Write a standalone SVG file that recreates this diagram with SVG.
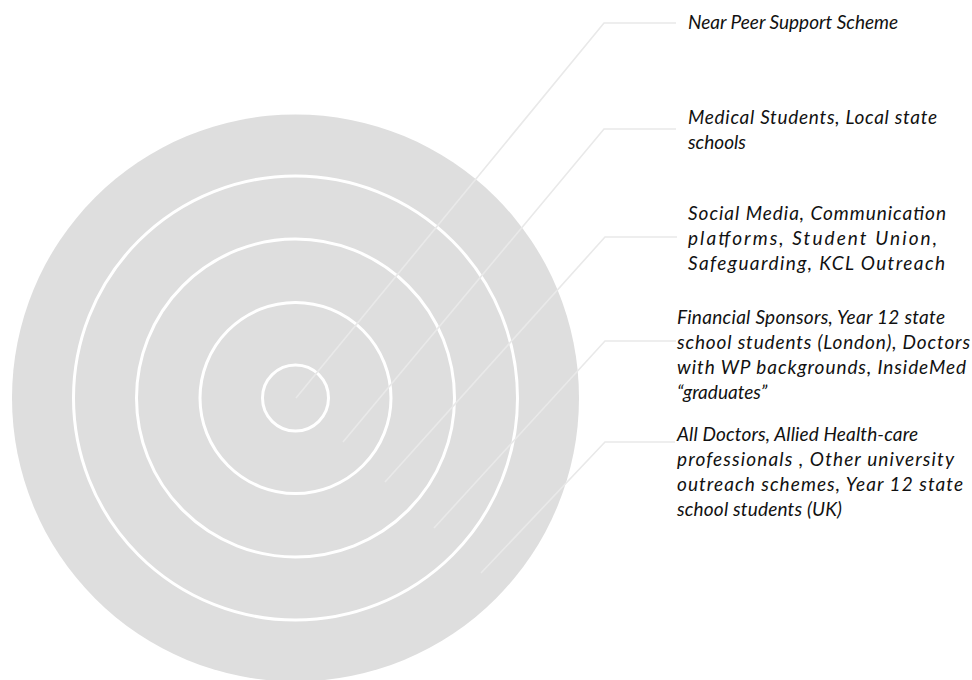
<svg xmlns="http://www.w3.org/2000/svg" width="972" height="680" viewBox="0 0 972 680">
<style>
.ring{fill:none;stroke:#ffffff;stroke-width:3}
.conn{fill:none;stroke:#e9e9e9;stroke-width:1.6}
.lbl{font-family:Lato,"Liberation Sans",Arial,sans-serif;font-style:italic;font-size:19px;fill:#111111}
</style>
<rect width="972" height="680" fill="#ffffff"/>
<g id="target">
<circle cx="295.5" cy="398" r="283.5" fill="#dedede"/>
<circle class="ring" cx="295.5" cy="398" r="222"/>
<circle class="ring" cx="295.5" cy="398" r="159"/>
<circle class="ring" cx="295.5" cy="398" r="95.5"/>
<circle class="ring" cx="295.5" cy="398" r="33"/>
</g>
<g id="connectors">
<polyline class="conn" points="296,398 604,23 676,23"/>
<polyline class="conn" points="343,442 604,129 676,129"/>
<polyline class="conn" points="385,482 605,237 677,237"/>
<polyline class="conn" points="434,528 605,341 676,341"/>
<polyline class="conn" points="481,573 605,442 675,442"/>
</g>
<g id="label1">
<text class="lbl" x="688" y="29">Near Peer Support Scheme</text>
</g>
<g id="label2">
<text class="lbl" x="688" y="123.5" textLength="249">Medical Students, Local state</text>
<text class="lbl" x="688" y="148.5">schools</text>
</g>
<g id="label3">
<text class="lbl" x="688" y="220" textLength="258">Social Media, Communication</text>
<text class="lbl" x="688" y="245" textLength="249">platforms, Student Union,</text>
<text class="lbl" x="688" y="270" textLength="257">Safeguarding, KCL Outreach</text>
</g>
<g id="label4">
<text class="lbl" x="677" y="324" textLength="268">Financial Sponsors, Year 12 state</text>
<text class="lbl" x="677" y="349" textLength="293">school students (London), Doctors</text>
<text class="lbl" x="677" y="374" textLength="289">with WP backgrounds, InsideMed</text>
<text class="lbl" x="677" y="399">“graduates”</text>
</g>
<g id="label5">
<text class="lbl" x="677" y="440.5" textLength="241">All Doctors, Allied Health-care</text>
<text class="lbl" x="677" y="465.5" textLength="277">professionals , Other university</text>
<text class="lbl" x="677" y="490.5" textLength="286">outreach schemes, Year 12 state</text>
<text class="lbl" x="677" y="515.5" textLength="165">school students (UK)</text>
</g>
</svg>
